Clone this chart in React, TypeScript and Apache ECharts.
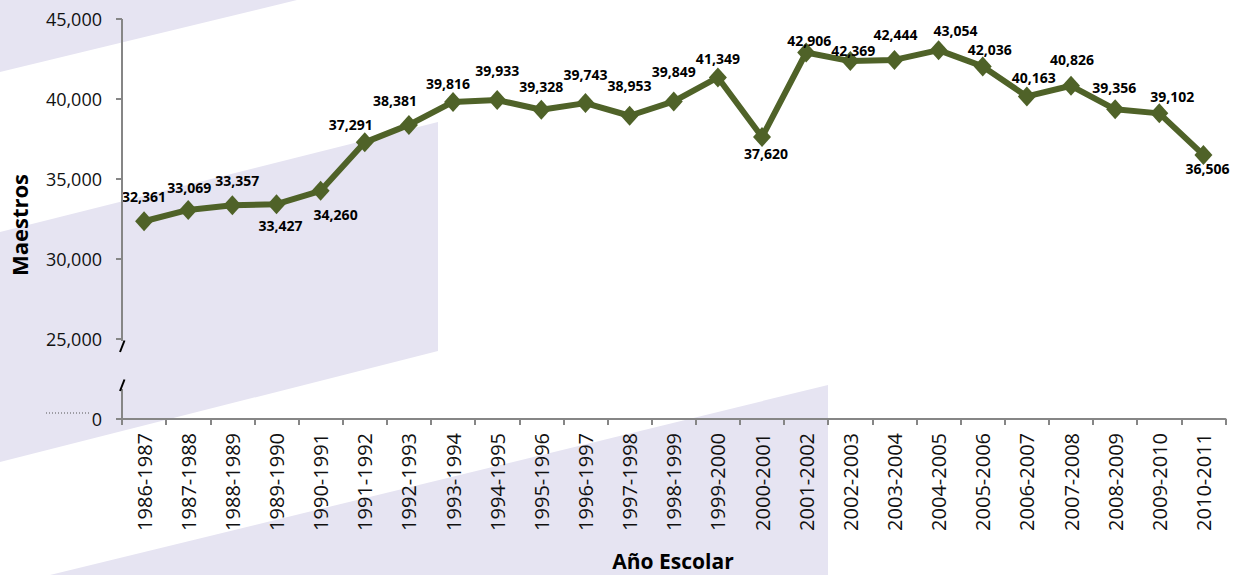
import React, { useEffect, useRef } from "react";
import * as echarts from "echarts";

const categories = [
  "1986-1987", "1987-1988", "1988-1989", "1989-1990", "1990-1991",
  "1991-1992", "1992-1993", "1993-1994", "1994-1995", "1995-1996",
  "1996-1997", "1997-1998", "1998-1999", "1999-2000", "2000-2001",
  "2001-2002", "2002-2003", "2003-2004", "2004-2005", "2005-2006",
  "2006-2007", "2007-2008", "2008-2009", "2009-2010", "2010-2011",
];

const teachers = [
  32361, 33069, 33357, 33427, 34260, 37291, 38381, 39816, 39933, 39328,
  39743, 38953, 39849, 41349, 37620, 42906, 42369, 42444, 43054, 42036,
  40163, 40826, 39356, 39102, 36506,
];

// broken axis: the axis bottom (value 20000) is shown as "0"
const axisFloor = 20000;
const axisTop = 45000;
const axisStep = 5000;

// label offsets (dx, dy) relative to each marker centre
const labelOffsets: [number, number][] = [
  [0, -25], [1, -22], [5, -25], [4, 21], [15, 24],
  [-14, -18], [-14, -24], [-5, -18], [0, -30], [0, -23],
  [0, -29], [0, -30], [0, -30], [0, -19], [4, 16],
  [3, -12], [3, -11], [1, -25], [17, -20], [7, -17],
  [7, -19], [1, -26], [-1, -22], [13, -17], [4, 14],
];

const FONT = "'Open Sans', 'DejaVu Sans', sans-serif";
const LAV = "#E6E4F2";
const AXIS = "#868686";
const OLIVE = "#4F6228";
const SYM_W = 18;
const SYM_H = 20;

export default function App() {
  const ref = useRef<HTMLDivElement>(null);

  useEffect(() => {
    if (!ref.current) return;
    const chart = echarts.init(ref.current, undefined, { renderer: "svg" });

    const data = teachers.map((v, i) => ({
      value: v,
      label: {
        position: [SYM_W / 2 + labelOffsets[i][0], SYM_H / 2 + labelOffsets[i][1]],
      },
    }));

    chart.setOption({
      animation: false,
      backgroundColor: "#ffffff",
      grid: { left: 122, right: 14.5, top: 19, bottom: 156, containLabel: false },
      xAxis: {
        type: "category",
        data: categories,
        boundaryGap: true,
        axisLine: { show: true, lineStyle: { color: AXIS, width: 2 } },
        axisTick: { show: true, length: 6, alignWithLabel: false, lineStyle: { color: AXIS, width: 2 } },
        axisLabel: {
          rotate: 90,
          margin: 14,
          interval: 0,
          color: "#111",
          fontFamily: FONT,
          fontSize: 20,
        },
        splitLine: { show: false },
      },
      yAxis: {
        type: "value",
        min: axisFloor,
        max: axisTop,
        interval: axisStep,
        axisLine: { show: false },
        axisTick: { show: true, length: 6, lineStyle: { color: AXIS, width: 2 } },
        axisLabel: {
          margin: 20,
          color: "#111",
          fontFamily: FONT,
          fontSize: 18,
          formatter: (v: number) =>
            v === axisFloor ? "0" : v.toLocaleString("en-US"),
        },
        splitLine: { show: false },
      },
      graphic: [
        // decorative background bands
        {
          type: "polygon", z: -10, silent: true,
          shape: { points: [[0, 0], [297, 0], [0, 72]] },
          style: { fill: LAV },
        },
        {
          type: "polygon", z: -10, silent: true,
          shape: { points: [[0, 232], [438, 122], [438, 351], [0, 462]] },
          style: { fill: LAV },
        },
        {
          type: "polygon", z: -10, silent: true,
          shape: { points: [[50, 575], [828, 385], [828, 575]] },
          style: { fill: LAV },
        },
        // broken y-axis line
        {
          type: "line", z: 5, silent: true,
          shape: { x1: 122, y1: 19, x2: 122, y2: 341 },
          style: { stroke: AXIS, lineWidth: 2 },
        },
        {
          type: "line", z: 5, silent: true,
          shape: { x1: 122, y1: 389, x2: 122, y2: 419 },
          style: { stroke: AXIS, lineWidth: 2 },
        },
        {
          type: "line", z: 6, silent: true,
          shape: { x1: 120, y1: 352, x2: 124.5, y2: 340.5 },
          style: { stroke: "#000", lineWidth: 2 },
        },
        {
          type: "line", z: 6, silent: true,
          shape: { x1: 120, y1: 391, x2: 124.5, y2: 379.5 },
          style: { stroke: "#000", lineWidth: 2 },
        },
        {
          type: "line", z: 6, silent: true,
          shape: { x1: 46, y1: 413, x2: 91, y2: 413 },
          style: { stroke: "#555", lineWidth: 1, lineDash: [1, 2] },
        },
        // axis titles
        {
          type: "text", z: 6, silent: true,
          x: 18.5, y: 225, rotation: Math.PI / 2,
          style: {
            text: "Maestros",
            fontFamily: FONT, fontSize: 22, fontWeight: "bold",
            fill: "#000", align: "center", verticalAlign: "middle",
          },
        },
        {
          type: "text", z: 6, silent: true,
          x: 673, y: 561,
          style: {
            text: "Año Escolar",
            fontFamily: FONT, fontSize: 21, fontWeight: "bold",
            fill: "#000", align: "center", verticalAlign: "middle",
          },
        },
      ],
      series: [
        {
          type: "line",
          data,
          z: 3,
          symbol: "diamond",
          symbolSize: [SYM_W, SYM_H],
          lineStyle: { color: OLIVE, width: 6 },
          itemStyle: { color: OLIVE },
          label: {
            show: true,
            position: [SYM_W / 2, SYM_H / 2],
            align: "center",
            verticalAlign: "middle",
            color: "#000",
            fontFamily: FONT,
            fontSize: 14,
            fontWeight: "bold",
            formatter: (p: any) => Number(p.value).toLocaleString("en-US"),
          },
          labelLayout: { hideOverlap: false },
        },
      ],
    });

    return () => chart.dispose();
  }, []);

  return (
    <div
      ref={ref}
      style={{ position: "fixed", left: 0, top: 0, width: 1240, height: 575 }}
    />
  );
}
